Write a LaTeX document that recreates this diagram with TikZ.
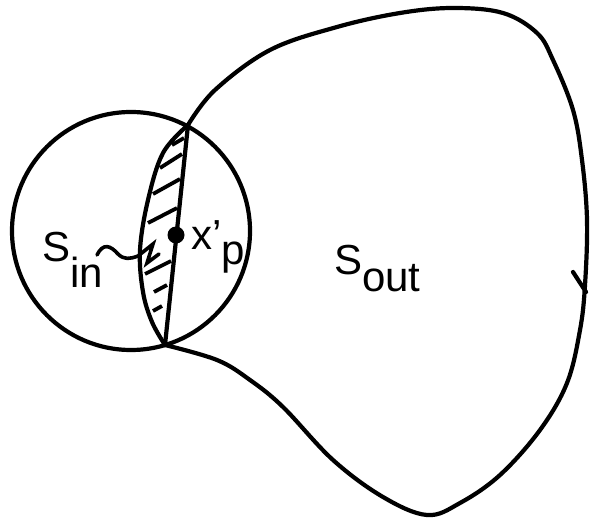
\documentclass[tikz,border=0pt]{standalone}
\usepackage{fontspec}
\setmainfont{Liberation Sans}
\begin{document}
\begin{tikzpicture}[x=1pt,y=-1pt,
  thick line/.style={line width=4.2pt, line join=round, line cap=round},
  hatch/.style={line width=3.8pt, line cap=butt},
  lbl/.style={inner sep=0pt, anchor=base west, font=\fontsize{42}{42}\selectfont}]
\useasboundingbox (0,0) rectangle (591,518);
% named points
\coordinate (T) at (188,125);
\coordinate (B) at (165,345);
\coordinate (C) at (131,231);
% circle
\draw[thick line] (C) circle (119pt);
% outer curve S_out boundary
\draw[thick line] plot[smooth, tension=0.6] coordinates {
 (188,125) (215,90) (270,50) (337,27) (400,13) (453,8) (503,13) (537,33) (553,60)
 (573,110) (582,160) (587,220) (585,285) (580,330) (567,383) (540,430) (500,475)
 (460,503) (427,515) (383,497) (333,460) (283,407) (250,380) (217,360) (165,345)};
% arrow barb on right side
\coordinate (A1) at (573,272);
\coordinate (A2) at (586,292);
\draw[thick line] (A1) -- (A2);
% lens
\draw[thick line] plot[smooth, tension=0.6] coordinates {
 (188,125) (163,153) (148,200) (140,250) (143,292) (152,322) (165,345)};
\draw[thick line] (T) -- (B);
% hatching
\draw[hatch] (172,145) -- (184,138);
\draw[hatch] (160,168) -- (182,154);
\draw[hatch] (153,194) -- (180,179);
\draw[hatch] (148,223) -- (177,208);
\draw[hatch] (145,274) -- (171,261);
\draw[hatch] (154,292) -- (167,285);
\draw[hatch] (153,311) -- (162,306);
% point x'_p
\node[circle, fill=black, inner sep=0pt, minimum size=17pt] (xp) at (176,235) {};
% squiggle leader from S_in
\draw[line width=3.6pt, line join=miter, line cap=round]
  (97,255) .. controls (103,243) and (110,245) .. (118,254)
  .. controls (124,260) and (130,259) .. (138,256)
  -- (153,244) -- (147,263) -- (159,254);
% labels
\node[lbl] (sin) at (42,262) {S\raisebox{-26pt}{in}};
\node[lbl] (xlab) at (191,250) {x'\raisebox{-15pt}{p}};
\node[lbl] (sout) at (334,275) {S\raisebox{-17pt}{out}};
\end{tikzpicture}
\end{document}
